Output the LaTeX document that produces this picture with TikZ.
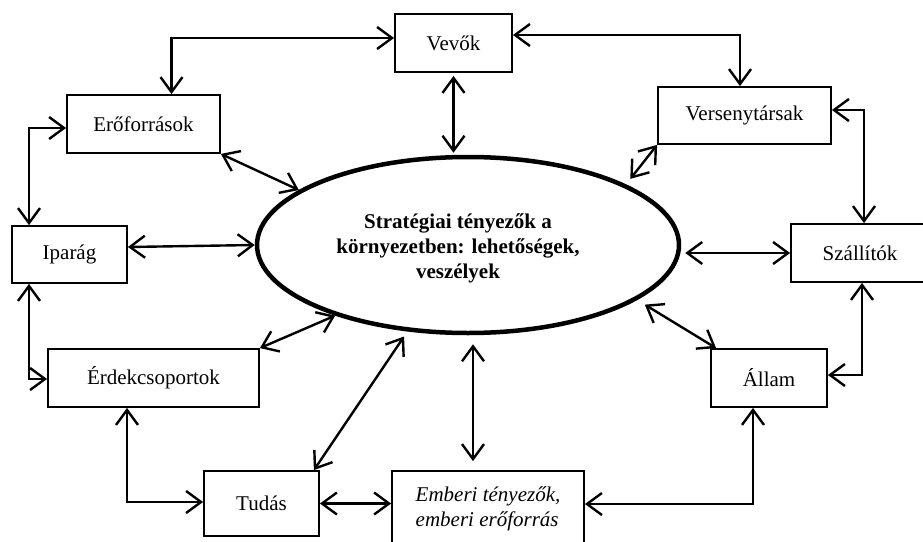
\documentclass[tikz,border=0pt]{standalone}
\usepackage{fontspec}
\setmainfont{Liberation Serif}
\usetikzlibrary{shapes,arrows.meta}

\tikzset{
  factor/.style={draw, line width=1.8pt, minimum height=58pt, inner sep=2pt,
    font=\fontsize{21}{25}\selectfont},
  link/.style={line width=2.4pt, <->},
}

\begin{document}
\begin{tikzpicture}[x=1pt, y=-1pt, >={Straight Barb[length=15pt,width=22pt]}]
    \useasboundingbox (0,0) rectangle (923,541);

    % Factor boxes
    \node [factor, minimum width=117pt] (vevo) at (453.5,43) {Vevők};
    \node [factor, minimum width=153pt] (ero) at (143.5,124) {Erőforrások};
    \node [factor, minimum width=173pt, minimum height=57pt] (verseny) at (744.5,115.5) {Versenytársak};
    \node [factor, minimum width=115pt, minimum height=57pt] (ipar) at (69.5,254.5) {Iparág};
    \node [factor, minimum width=138pt] (szall) at (860,253) {Szállítók};
    \node [factor, minimum width=211pt] (erdek) at (153.5,378) {Érdekcsoportok};
    \node [factor, minimum width=116pt] (allam) at (769,378) {Állam};
    \node [factor, minimum width=115pt, minimum height=65pt] (tudas) at (261.5,503.5) {Tudás};
    \node [factor, minimum width=192pt, minimum height=76pt, align=left,
      font=\fontsize{21}{25}\selectfont\itshape] (ember) at (488,509) {Emberi tényezők,\\emberi erőforrás};

    % Central ellipse
    \node [draw, ellipse, line width=4.5pt, minimum width=422pt, minimum height=176pt, inner sep=0pt] (env) at (468,245) {};
    \node [font=\fontsize{21}{25}\selectfont\bfseries, align=center] (envtext) at (458,248)
      {Stratégiai tényezők a\\környezetben: lehetőségek,\\veszélyek};

    % Outer ring of links
    \draw [link] ([xshift=28pt]ero.north) |- ([yshift=5pt]vevo.west);
    \draw [link] ([yshift=8pt]vevo.east) -| ([xshift=-4.5pt]verseny.north);
    \draw [link] ([yshift=-4pt]ero.west) -| ([xshift=-40.5pt]ipar.north);
    \draw [link] ([yshift=5.5pt]verseny.east) -| ([xshift=4pt]szall.north);
    \draw [link] ([xshift=-40.5pt]ipar.south) |- ([yshift=-1pt]erdek.west);
    \draw [link] ([xshift=2pt]szall.south) |- ([yshift=3pt]allam.east);
    \draw [link] ([xshift=-26.5pt]erdek.south) |- ([yshift=1.5pt]tudas.west);
    \draw [link] (tudas.east) -- (tudas.east -| ember.west);
    \draw [link] ([xshift=-16pt]allam.south) |- ([yshift=5pt]ember.east);

    % Links to the ellipse
    \coordinate (emtop) at ([xshift=-15pt]ember.north);
    \draw [link, shorten <=3pt, shorten >=2pt] (vevo.south) -- (vevo.south |- env.north);
    \draw [link] (ero.south east) -- (env.162.5);
    \draw [link] ([yshift=7.5pt]ipar.east) -- (env.west);
    \draw [link, shorten >=7pt] (verseny.south west) -- (env.21);
    \draw [link, shorten >=4pt] (szall.west) -- (szall.west -| env.east);
    \draw [link] (erdek.north east) -- (env.208.8);
    \draw [link, shorten >=6pt] ([xshift=-6pt]tudas.north east) -- (env.235);
    \draw [link, shorten <=9pt, shorten >=9pt] (emtop) -- (emtop |- env.south);
    \draw [link, shorten >=9pt] ([xshift=6pt]allam.north west) -- (env.-18);
\end{tikzpicture}
\end{document}
